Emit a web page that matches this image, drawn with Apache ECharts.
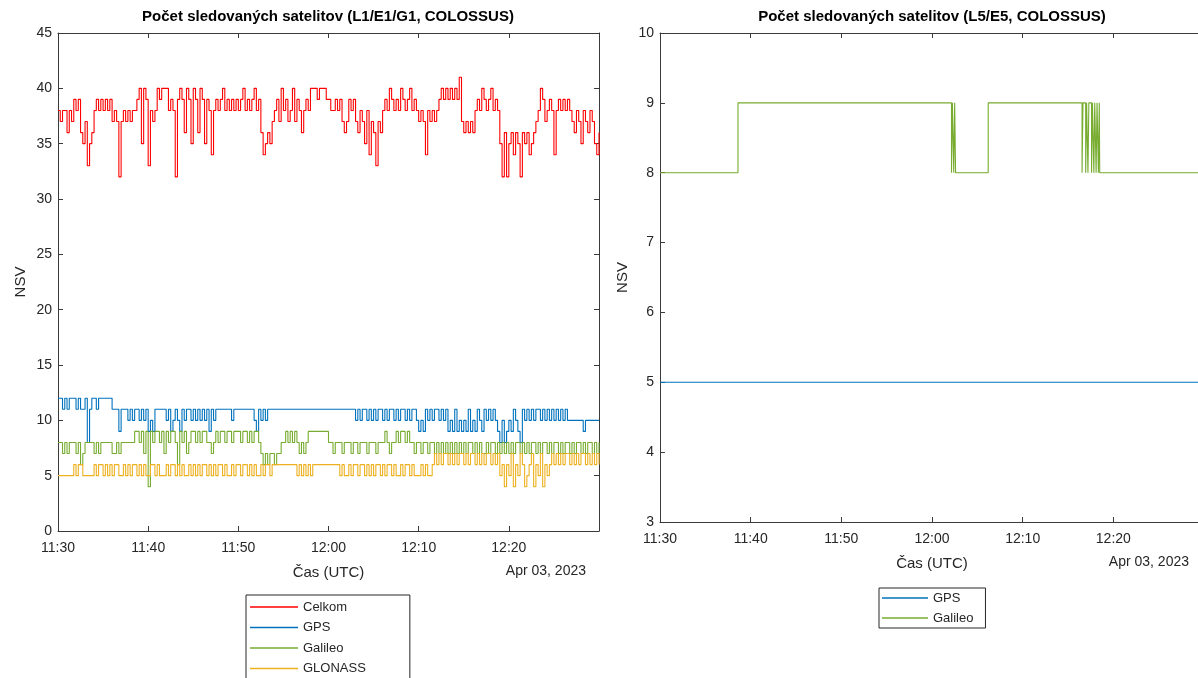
<!DOCTYPE html>
<html>
<head>
<meta charset="utf-8">
<script src="https://cdn.jsdelivr.net/npm/echarts@6/dist/echarts.min.js"></script>
<style>
html,body{margin:0;padding:0;overflow:hidden;background:#fff;}
#chart{width:1210px;height:720px;}
</style>
</head>
<body>
<div id="chart"></div>
<script>
// ---------- DATA ----------
// Left panel (L1/E1/G1): one sample every 15 s starting 11:30 UTC
const sampleStepMin = 0.25;
const xTickLabels = ['11:30','11:40','11:50','12:00','12:10','12:20','12:30'];
const dateLabel = 'Apr 03, 2023';

const celkom = [
 38,37,38,38,36,38,37,39,38,39,36,35,37,33,35,36,38,39,38,39,
 38,39,38,39,37,38,37,32,37,38,37,38,37,38,38,39,40,35,40,39,
 33,38,37,38,40,39,40,40,40,38,39,38,32,39,40,39,36,40,39,35,
 40,39,36,40,39,35,39,38,34,38,39,38,39,40,38,39,38,39,38,39,
 38,39,40,38,39,38,39,40,38,39,36,34,35,36,35,37,38,39,37,40,
 38,39,37,38,40,37,39,38,36,38,39,38,40,40,40,39,40,40,40,39,
 39,38,38,39,38,39,37,36,37,39,38,39,37,36,38,37,35,38,34,37,
 36,33,37,36,38,39,38,40,39,38,39,38,40,39,38,39,40,38,39,38,
 37,38,37,34,38,37,38,37,38,39,40,39,40,39,40,39,40,39,41,37,
 36,37,36,37,36,38,39,38,40,39,38,39,40,38,39,38,35,32,36,32,
 35,36,34,36,35,32,36,35,36,34,35,36,37,38,40,39,37,38,39,38,
 34,38,39,38,39,38,39,38,37,36,38,37,35,38,37,36,38,37,35,34,36
];
const gps = [
 12,12,11,12,11,12,12,12,11,12,11,11,12,8,11,12,12,11,12,12,
 12,12,12,12,11,11,11,9,11,11,11,10,11,10,11,11,10,11,10,11,
 9,10,9,11,11,11,11,11,10,11,9,10,11,10,9,11,10,11,11,10,
 11,10,11,10,11,10,11,9,11,10,11,11,11,11,11,11,11,10,11,11,
 11,11,11,11,11,11,11,10,9,11,10,11,10,11,11,11,11,11,11,11,
 11,11,11,11,11,11,11,11,11,11,11,11,11,11,11,11,11,11,11,11,
 11,11,11,11,11,11,11,11,11,11,11,11,10,11,10,11,11,10,11,10,
 11,10,11,11,10,11,10,11,11,10,11,10,11,11,10,11,10,11,11,10,
 9,10,9,11,10,11,10,11,11,10,11,10,11,9,10,9,11,9,10,9,
 10,9,11,9,10,9,11,10,9,11,10,11,10,11,10,9,8,10,8,9,
 10,9,11,10,9,8,11,10,11,10,11,10,11,11,10,11,10,11,10,11,
 10,11,10,11,10,11,10,10,10,10,10,10,10,9,10,10,10,10,10,10,10
];
const galileo = [
 8,8,7,8,7,8,8,8,7,8,6,7,8,8,8,8,7,8,7,8,
 8,8,8,8,7,7,8,7,8,8,8,8,8,8,9,9,8,9,7,9,
 4,9,8,9,9,8,9,7,9,8,9,9,8,6,9,8,9,7,8,9,
 9,8,9,8,9,9,8,8,7,8,9,8,9,9,8,9,9,8,9,9,
 9,8,9,9,8,9,8,9,9,8,7,6,7,6,7,7,6,7,7,8,
 8,9,8,9,8,9,8,7,8,7,8,9,9,9,9,9,9,9,9,9,
 8,8,7,8,8,8,7,8,8,8,7,8,8,7,8,8,8,7,8,8,
 8,7,8,8,8,9,8,7,8,8,9,8,9,9,8,9,8,8,7,8,
 8,7,8,8,7,8,8,7,8,7,8,7,8,7,8,7,8,7,8,7,
 8,7,8,8,7,8,7,8,7,7,8,7,8,8,7,8,7,8,7,8,
 7,8,7,8,8,7,8,7,8,7,8,8,7,8,7,8,8,7,8,7,
 8,8,7,8,7,8,8,7,8,7,8,8,7,8,7,8,8,7,8,7,8
];
const glonass = [
 5,5,5,5,5,5,5,6,5,6,6,5,5,5,5,5,6,5,6,6,
 5,6,5,6,5,6,6,5,5,6,5,6,5,6,6,5,6,5,6,5,
 5,6,6,5,6,5,5,5,6,5,6,6,5,6,5,6,5,5,6,5,
 6,5,6,5,6,6,5,6,5,6,5,6,6,5,6,5,5,6,5,6,
 6,5,6,6,5,6,5,6,5,5,6,5,6,6,5,6,6,6,6,6,
 6,6,6,6,6,6,5,6,5,6,5,6,5,6,6,6,6,6,6,6,
 6,6,6,6,6,5,6,5,5,6,5,6,6,5,6,6,5,6,5,6,
 5,6,6,5,6,5,6,6,5,6,5,5,6,5,6,6,5,6,5,5,
 5,6,5,6,5,5,6,7,6,7,6,7,7,6,7,6,7,6,7,7,
 6,7,6,7,7,6,7,6,7,6,7,7,6,7,6,7,5,6,4,6,
 5,7,4,6,5,7,6,4,5,6,7,4,6,5,7,4,6,5,6,7,
 6,7,6,7,6,7,7,6,7,6,7,6,7,7,6,7,6,7,6,7,6
];

// Right panel (L5/E5): change points, minutes after 11:30 UTC
const gpsL5Times = [0, 60];
const gpsL5Values = [5, 5];
const galL5Times = [0, 8.6, 32.15, 32.25, 32.4, 32.5, 32.6, 36.2, 46.55, 46.65, 46.95, 47.05, 47.2, 47.3, 47.6, 47.7, 47.85, 47.95, 48.1, 48.2, 48.35, 48.45, 48.5, 60];
const galL5Values = [8, 9, 8, 9, 8, 9, 8, 9, 8, 9, 8, 9, 8, 9, 8, 9, 8, 9, 8, 9, 8, 9, 8, 8];

const leftTitle = 'Počet sledovaných satelitov (L1/E1/G1, COLOSSUS)';
const rightTitle = 'Počet sledovaných satelitov (L5/E5, COLOSSUS)';
const xName = 'Čas (UTC)';
const yName = 'NSV';

// ---------- BUILD ----------
const COLORS = {celkom:'#ff0000', gps:'#0072BD', galileo:'#77AC30', glonass:'#EDB120'};
const FONT = '"Liberation Sans", Arial, Helvetica, sans-serif';
const AX = '#3a3a3a';
const TXT = '#262626';

function sampled(arr){ return arr.map((v,i)=>[i*sampleStepMin, v]); }
function paired(ts, vs){ return ts.map((t,i)=>[t, vs[i]]); }

function xAxisPair(grid){
  const base = {
    type:'value', gridIndex:grid, min:0, max:60, interval:10,
    axisLine:{show:true, onZero:false, lineStyle:{color:AX, width:1}},
    axisTick:{show:true, inside:true, length:5, lineStyle:{color:AX}},
    splitLine:{show:false}
  };
  return [
    Object.assign({}, base, {
      position:'bottom',
      axisLabel:{show:true, color:TXT, fontFamily:FONT, fontSize:14, margin:10, showMaxLabel:false,
        formatter:(v)=>xTickLabels[Math.round(v/10)]},
      name:xName, nameLocation:'middle', nameGap:34,
      nameTextStyle:{color:TXT, fontFamily:FONT, fontSize:15}
    }),
    Object.assign({}, base, {position:'top', axisLabel:{show:false}})
  ];
}
function yAxisPair(grid, min, max, interval){
  const base = {
    type:'value', gridIndex:grid, min:min, max:max, interval:interval,
    axisLine:{show:true, onZero:false, lineStyle:{color:AX, width:1}},
    axisTick:{show:true, inside:true, length:5, lineStyle:{color:AX}},
    splitLine:{show:false}
  };
  return [
    Object.assign({}, base, {
      position:'left',
      axisLabel:{show:true, color:TXT, fontFamily:FONT, fontSize:14, margin:6},
      name:yName, nameLocation:'middle', nameGap:30, nameRotate:90,
      nameTextStyle:{color:TXT, fontFamily:FONT, fontSize:15}
    }),
    Object.assign({}, base, {position:'right', axisLabel:{show:false}})
  ];
}

function lineSeries(name, color, data, xi, yi){
  return {
    name:name, type:'line', step:'end', data:data,
    xAxisIndex:xi, yAxisIndex:yi, showSymbol:false, symbol:'none',
    lineStyle:{color:color, width:1.1}, itemStyle:{color:color},
    animation:false, silent:true
  };
}
function legendItem(name, color){ return {name:name, itemStyle:{color:color}}; }

const chart = echarts.init(document.getElementById('chart'), null, {renderer:'canvas'});
const legendCommon = {
  orient:'vertical', icon:'rect', itemHeight:1.3, itemWidth:48,
  borderColor:'#262626', borderWidth:1, backgroundColor:'#fff',
  textStyle:{color:TXT, fontFamily:FONT, fontSize:13, lineHeight:14},
  selectedMode:false
};
chart.setOption({
  backgroundColor:'#ffffff',
  animation:false,
  grid:[
    {left:58, top:33, width:541, height:498},
    {left:660, top:33, width:544, height:489}
  ],
  xAxis:[...xAxisPair(0), ...xAxisPair(1)],
  yAxis:[...yAxisPair(0,0,45,5), ...yAxisPair(1,3,10,1)],
  legend:[
    Object.assign({}, legendCommon, {
      left:246, top:595, itemGap:6.5, padding:[5,44,6,4],
      data:[legendItem('Celkom',COLORS.celkom), legendItem('GPS',COLORS.gps),
            legendItem('Galileo',COLORS.galileo), legendItem('GLONASS',COLORS.glonass)]
    }),
    Object.assign({}, legendCommon, {
      left:879, top:588, itemGap:6, itemWidth:46, padding:[3,12,3,3],
      data:[legendItem('GPS L5',COLORS.gps), legendItem('Galileo E5',COLORS.galileo)],
      formatter:(n)=>n.split(' ')[0]
    })
  ],
  series:[
    lineSeries('Celkom', COLORS.celkom, sampled(celkom), 0, 0),
    lineSeries('GPS', COLORS.gps, sampled(gps), 0, 0),
    lineSeries('Galileo', COLORS.galileo, sampled(galileo), 0, 0),
    lineSeries('GLONASS', COLORS.glonass, sampled(glonass), 0, 0),
    lineSeries('GPS L5', COLORS.gps, paired(gpsL5Times, gpsL5Values), 2, 2),
    lineSeries('Galileo E5', COLORS.galileo, paired(galL5Times, galL5Values), 2, 2)
  ],
  graphic:[
    {type:'text', x:328, y:17, style:{text:leftTitle, fill:'#000', font:'bold 15px '+FONT, textAlign:'center', textVerticalAlign:'middle'}},
    {type:'text', x:932, y:17, style:{text:rightTitle, fill:'#000', font:'bold 15px '+FONT, textAlign:'center', textVerticalAlign:'middle'}},
    {type:'text', x:586, y:571, style:{text:dateLabel, fill:TXT, font:'14px '+FONT, textAlign:'right', textVerticalAlign:'middle'}},
    {type:'text', x:1189, y:562, style:{text:dateLabel, fill:TXT, font:'14px '+FONT, textAlign:'right', textVerticalAlign:'middle'}}
  ]
});
</script>
</body>
</html>
